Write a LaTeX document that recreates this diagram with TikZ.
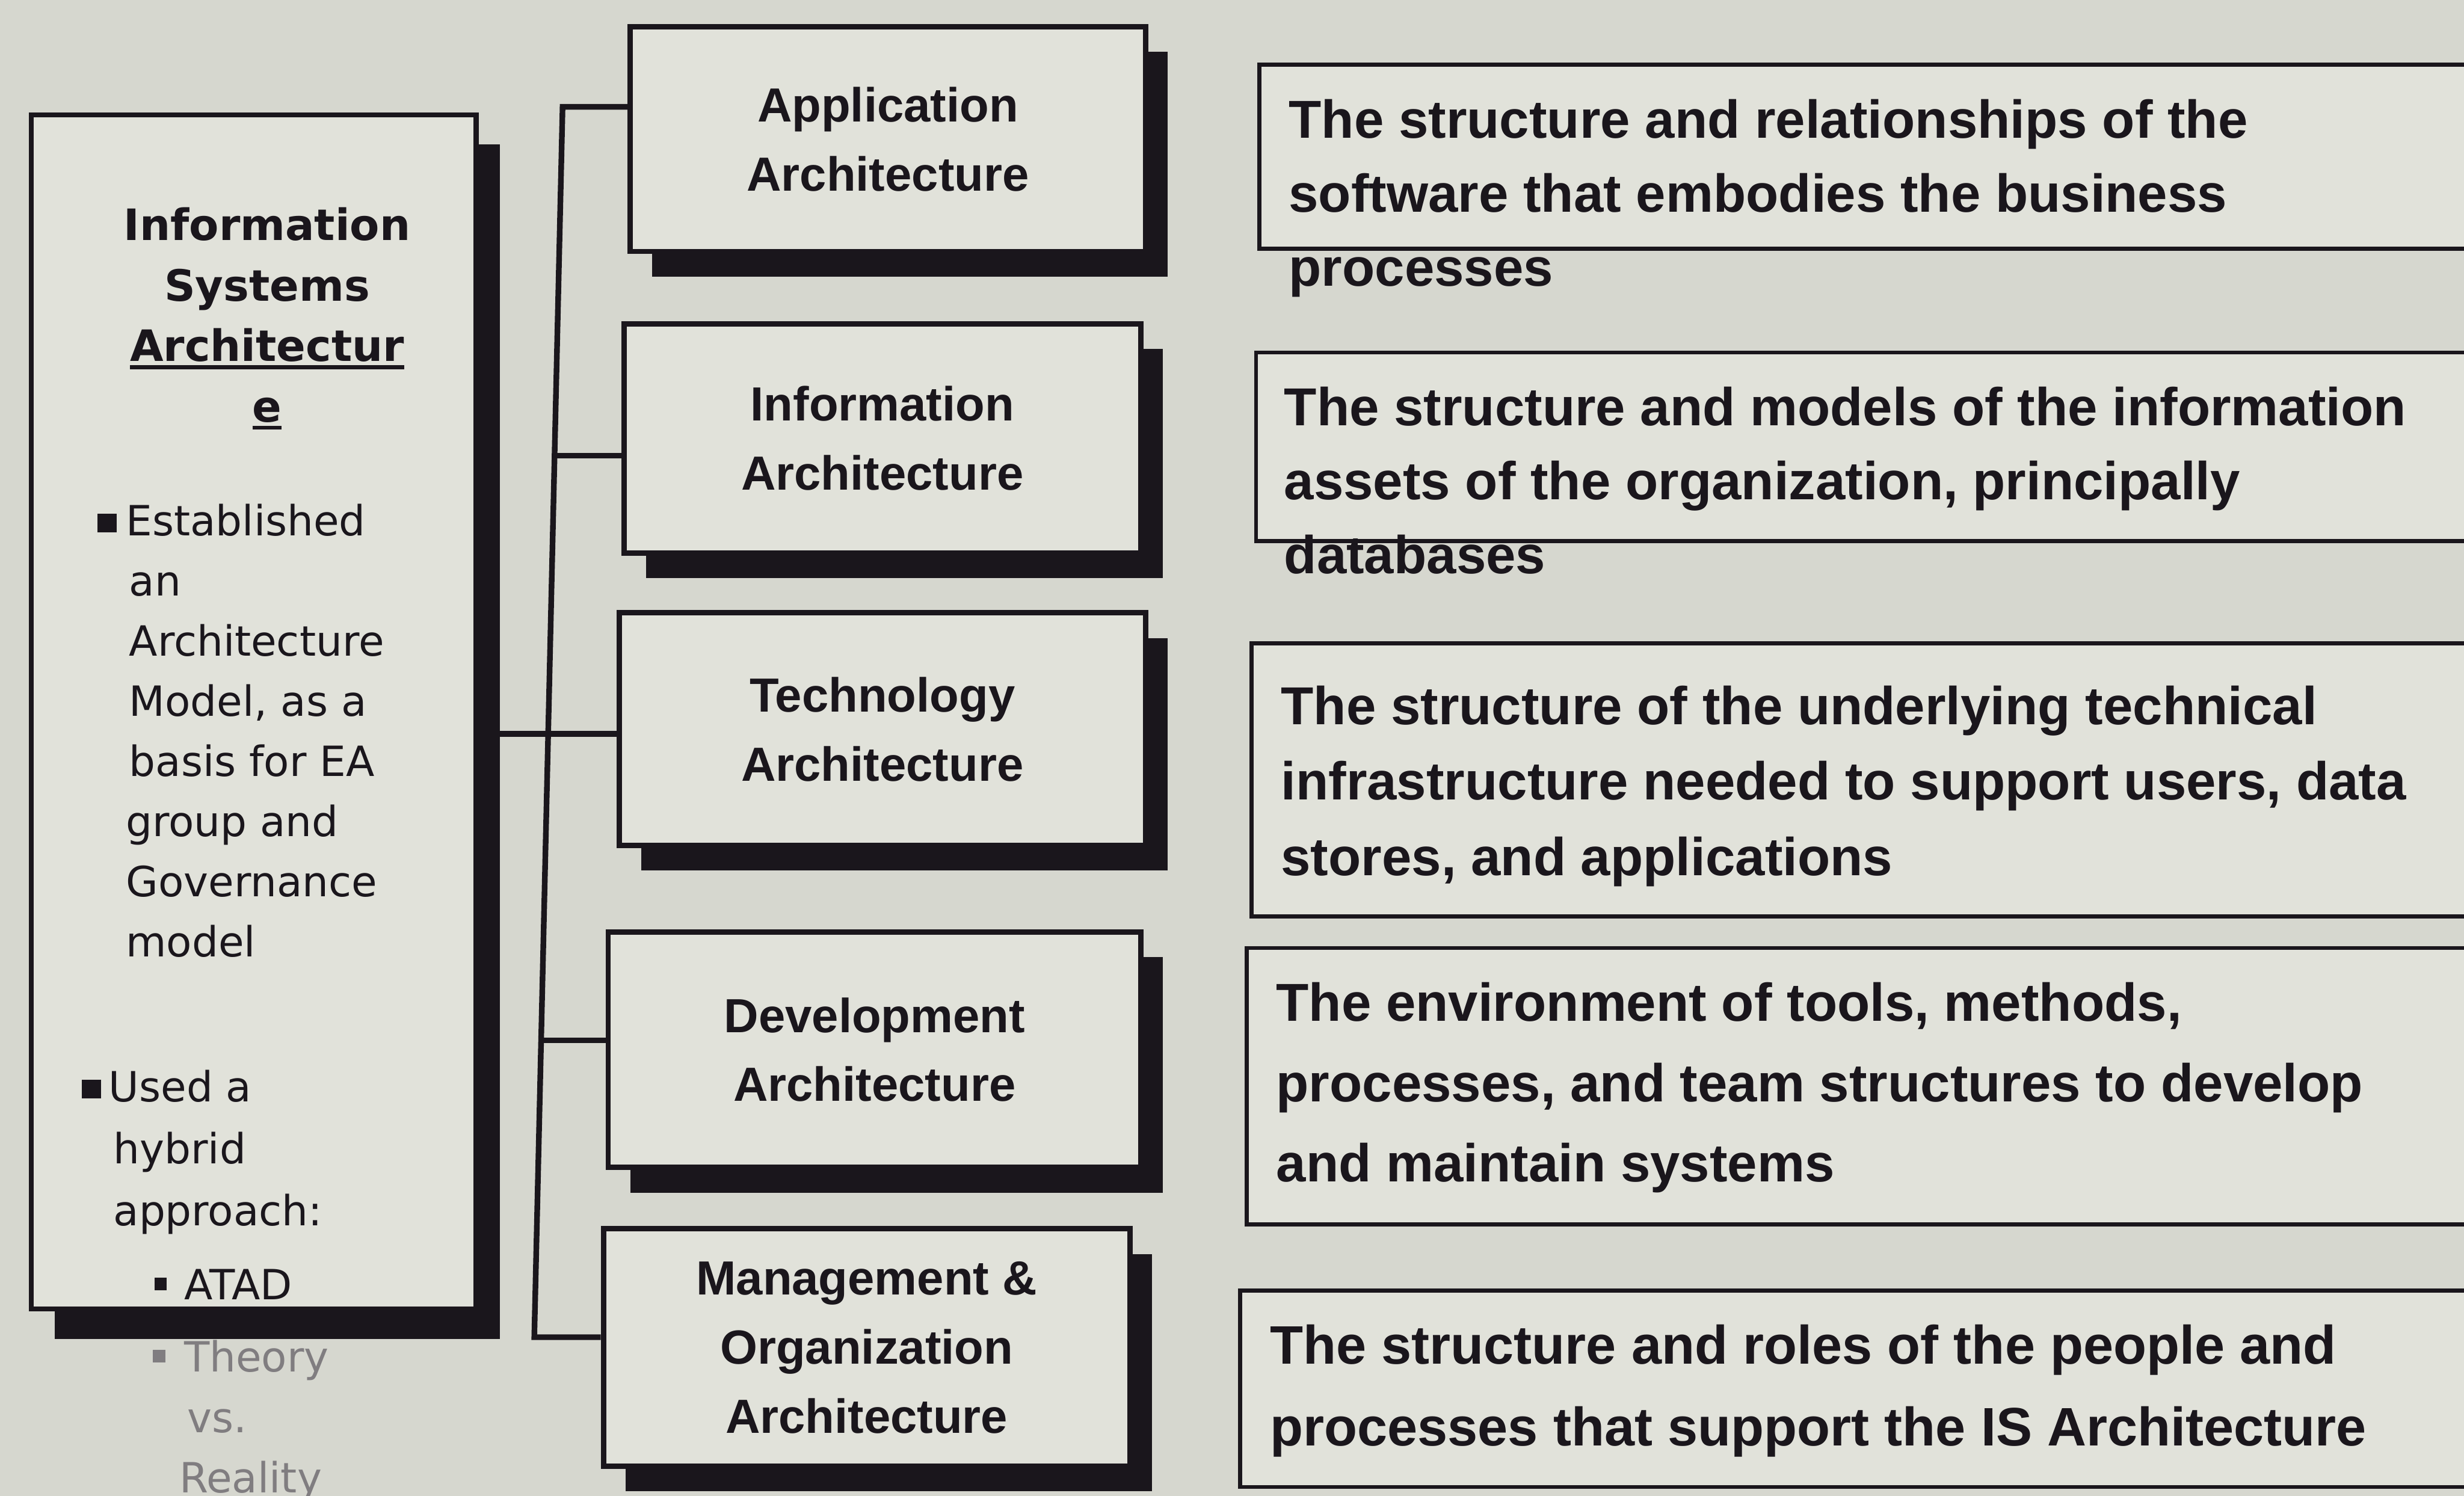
\documentclass[tikz,border=0pt]{standalone}
\usepackage{fontspec}
\setmainfont{Liberation Sans}
\newfontfamily\slidefont{DejaVu Sans}
\usetikzlibrary{shadows}

\definecolor{paper}{RGB}{214,215,207}
\definecolor{boxfill}{RGB}{225,226,218}
\definecolor{ink}{RGB}{26,22,28}
\definecolor{faded}{RGB}{128,125,128}

\newcommand{\sqbullet}{\rule[2pt]{12pt}{12pt}}
\newcommand{\smbullet}{\rule[6pt]{8pt}{8pt}}
% heavy underline matching the bold title
\newsavebox{\ulbox}
\newcommand{\heavyul}[1]{\sbox{\ulbox}{#1}\rlap{\rule[-5pt]{\wd\ulbox}{2.6pt}}\usebox{\ulbox}}

\begin{document}
\begin{tikzpicture}[x=1pt,y=-1pt,
  archbox/.style={draw=ink, line width=3.4pt, fill=boxfill, align=center,
    inner sep=0pt, text=ink, font=\fontsize{30.5}{44}\selectfont\bfseries,
    drop shadow={shadow xshift=14pt, shadow yshift=-16pt, fill=ink, opacity=1}},
  sidebox/.style={draw=ink, line width=3.2pt, fill=boxfill, inner sep=0pt,
    drop shadow={shadow xshift=15pt, shadow yshift=-19pt, fill=ink, opacity=1}},
  descbox/.style={draw=ink, line width=2.6pt, fill=boxfill, inner sep=0pt, anchor=north west},
  desctext/.style={anchor=base west, align=left, inner sep=0pt, text=ink},
  sidetext/.style={anchor=base west, align=left, inner sep=0pt, text=ink},
  bus/.style={draw=ink, line width=3.6pt, line join=miter}
]
\useasboundingbox (0,0) rectangle (1568,952);
\fill[paper] (0,0) rectangle (1568,952);
\clip (0,0) rectangle (1568,952);

% left summary panel (text nodes are placed by the baseline of their last line)
\node[sidebox, minimum width=283, minimum height=760] (isa) at (161.5,453) {};
\node[align=center, inner sep=0pt, anchor=base, text=ink,
  font=\slidefont\fontsize{27.5}{38.5}\selectfont\bfseries] (isatitle) at (170,268.5)
  {Information\\Systems\\\heavyul{Architectur}\\\heavyul{e}};
\node[sidetext, font=\slidefont\fontsize{26.5}{38.3}\selectfont] (est) at (62,609)
  {\sqbullet\hspace{6pt}Established\\\hspace*{20pt}an\\\hspace*{20pt}Architecture\\
   \hspace*{20pt}Model, as a\\\hspace*{20pt}basis for EA\\\hspace*{18pt}group and\\
   \hspace*{18pt}Governance\\\hspace*{18pt}model};
\node[sidetext, font=\slidefont\fontsize{26.5}{39.5}\selectfont] (hyb) at (52,780)
  {\sqbullet\hspace{5pt}Used a\\\hspace*{20pt}hybrid\\\hspace*{20pt}approach:};
\node[sidetext, font=\slidefont\fontsize{26.5}{38.5}\selectfont] (atad) at (98,827)
  {\smbullet\hspace{11pt}ATAD};
\node[sidetext, text=faded, font=\slidefont\fontsize{26.5}{38.5}\selectfont] (theory) at (97,950)
  {\smbullet\hspace{12pt}Theory\\\hspace*{22pt}vs.\\\hspace*{17pt}Reality};

% architecture layers
\node[archbox, minimum width=328, minimum height=143] (app)  at (565,88.5) {Application\\Architecture};
\node[archbox, minimum width=329, minimum height=146] (info) at (561.5,279) {Information\\Architecture};
\node[archbox, minimum width=335, minimum height=148] (tech) at (561.5,464) {Technology\\Architecture};
\node[archbox, minimum width=339, minimum height=150] (dev)  at (556.5,668) {Development\\Architecture};
\node[archbox, minimum width=335, minimum height=151] (mgmt) at (551.5,857.5) {Management \&\\Organization\\Architecture};

% tree connector
\coordinate (b1) at (358,68);
\coordinate (b2) at (353,290);
\coordinate (b3) at (349,467);
\coordinate (b4) at (344,662);
\coordinate (b5) at (340,851);
\draw[bus] (app.west |- b1) -- (b1) -- (b5) -- (mgmt.west |- b5);
\draw[bus] (b2) -- (info.west |- b2);
\draw[bus] (isa.east |- b3) -- (tech.west |- b3);
\draw[bus] (b4) -- (dev.west |- b4);

% descriptions
\node[descbox, minimum width=800, minimum height=117] (d1) at (800,40) {};
\node[descbox, minimum width=802, minimum height=120] (d2) at (798,223) {};
\node[descbox, minimum width=805, minimum height=174] (d3) at (795,408) {};
\node[descbox, minimum width=808, minimum height=176] (d4) at (792,602) {};
\node[descbox, minimum width=812, minimum height=125] (d5) at (788,820) {};

\node[desctext, font=\fontsize{34}{47}\selectfont\bfseries] (t1) at (820,182)
  {The structure and relationships of the\\software that embodies the business\\processes};
\node[desctext, font=\fontsize{34}{47}\selectfont\bfseries] (t2) at (817,365)
  {The structure and models of the information\\assets of the organization, principally\\databases};
\node[desctext, font=\fontsize{34}{48}\selectfont\bfseries] (t3) at (815,557)
  {The structure of the underlying technical\\infrastructure needed to support users, data\\stores, and applications};
\node[desctext, font=\fontsize{34}{51}\selectfont\bfseries] (t4) at (812,752)
  {The environment of tools, methods,\\processes, and team structures to develop\\and maintain systems};
\node[desctext, font=\fontsize{34.5}{52}\selectfont\bfseries] (t5) at (808,920)
  {The structure and roles of the people and\\processes that support the IS Architecture};
\end{tikzpicture}
\end{document}
